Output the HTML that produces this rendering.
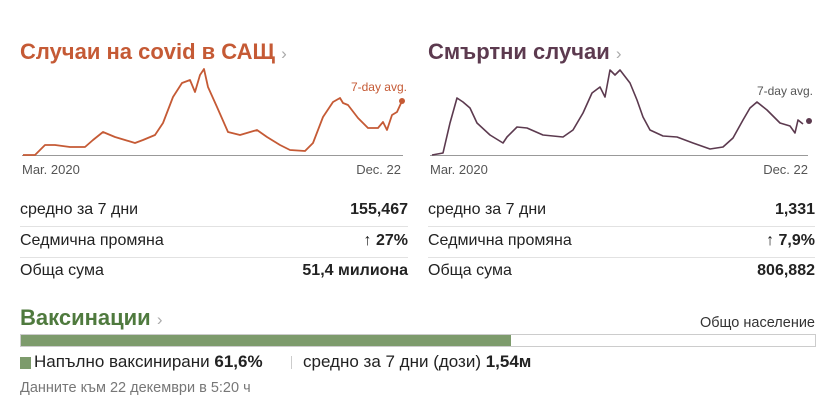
<!DOCTYPE html>
<html><head><meta charset="utf-8"><style>
body{margin:0;width:825px;height:418px;background:#fff;position:relative;font-family:"Liberation Sans",sans-serif;overflow:hidden}
.a{position:absolute;white-space:nowrap}
.t{font-weight:bold;font-size:22px}
.r{font-size:16px;color:#222}
.v{font-weight:bold;text-align:right}
.sep{position:absolute;height:1px;background:#e2e2e2}
.n{font-family:"Liberation Sans Narrow","Liberation Sans",sans-serif}
</style></head><body>
<div class="a t" style="left:20px;top:39px;color:#c55a35">Случаи на covid в САЩ <span style="color:#aaa;font-weight:normal;font-size:17px">›</span></div>
<div class="a t" style="left:428px;top:39px;color:#5c3a4f">Смъртни случаи <span style="color:#aaa;font-weight:normal;font-size:17px">›</span></div>
<svg class="a" style="left:0;top:0" width="825" height="180">
<line x1="22" y1="155.5" x2="403" y2="155.5" stroke="#999" stroke-width="1"/>
<line x1="430" y1="155.5" x2="808" y2="155.5" stroke="#999" stroke-width="1"/>
<polyline fill="none" stroke="#c55a35" stroke-width="1.8" stroke-linejoin="round" points="23,155 35,155 45,145 55,145 70,147 85,147 93,140 103,132 115,137 125,140 135,143 143,140 155,135 163,123 173,97 182,83 190,80 195,92 200,75 204,69 208,87 217,107 228,132 240,135 257,130 267,137 280,145 290,150 305,151 313,143 323,117 333,102 340,98 343,103 348,105 358,118 368,128 378,128 383,122 387,130 392,115 397,112 402,101"/>
<circle cx="402" cy="101" r="3" fill="#c55a35"/>
<polyline fill="none" stroke="#5c3a4f" stroke-width="1.6" stroke-linejoin="round" points="432,155 443,153 450,123 457,98 463,102 470,108 477,123 490,135 503,143 507,137 517,127 527,128 543,135 563,137 573,130 583,113 592,93 600,87 605,97 610,70 615,75 620,70 630,83 637,100 643,117 650,130 663,136 677,137 693,143 710,149 723,147 733,138 743,120 750,108 757,102 767,110 780,123 790,126 795,133 798,120 803,124"/>
<circle cx="809" cy="121" r="3" fill="#5c3a4f"/>
<text x="407" y="91" font-size="12" fill="#c55a35" text-anchor="end" font-family="Liberation Sans">7-day avg.</text>
<text x="813" y="95" font-size="12" fill="#555" text-anchor="end" font-family="Liberation Sans">7-day avg.</text>
<text x="22" y="174" font-size="13" fill="#555" font-family="Liberation Sans">Mar. 2020</text>
<text x="401" y="174" font-size="13" fill="#555" text-anchor="end" font-family="Liberation Sans">Dec. 22</text>
<text x="430" y="174" font-size="13" fill="#555" font-family="Liberation Sans">Mar. 2020</text>
<text x="808" y="174" font-size="13" fill="#555" text-anchor="end" font-family="Liberation Sans">Dec. 22</text>
</svg>
<div class="a r" style="left:20px;top:201px">средно за 7 дни</div><div class="a r v" style="right:417px;top:201px">155,467</div>
<div class="sep" style="left:20px;width:388px;top:226px"></div>
<div class="a r" style="left:20px;top:232px">Седмична промяна</div><div class="a r v" style="right:417px;top:232px">↑ 27%</div>
<div class="sep" style="left:20px;width:388px;top:257px"></div>
<div class="a r" style="left:20px;top:262px">Обща сума</div><div class="a r v" style="right:417px;top:262px">51,4 милиона</div>
<div class="a r" style="left:428px;top:201px">средно за 7 дни</div><div class="a r v" style="right:10px;top:201px">1,331</div>
<div class="sep" style="left:428px;width:387px;top:226px"></div>
<div class="a r" style="left:428px;top:232px">Седмична промяна</div><div class="a r v" style="right:10px;top:232px">↑ 7,9%</div>
<div class="sep" style="left:428px;width:387px;top:257px"></div>
<div class="a r" style="left:428px;top:262px">Обща сума</div><div class="a r v" style="right:10px;top:262px">806,882</div>
<div class="a n" style="left:20px;top:305px;font-size:22px;font-weight:bold;color:#4f7a3e">Ваксинации <span style="color:#aaa;font-weight:normal;font-size:17px">›</span></div>
<div class="a n" style="right:10px;top:315px;font-size:14.5px;color:#333">Общо население</div>
<div class="a" style="left:20px;top:334px;width:794px;height:11px;border:1px solid #ccc;background:#fff"></div>
<div class="a" style="left:21px;top:335px;width:490px;height:11px;background:#7d9b6c"></div>
<div class="a" style="left:20px;top:357px;width:11px;height:12px;background:#7d9b6c"></div>
<div class="a n" style="left:34px;top:352px;font-size:17px;color:#222">Напълно ваксинирани <b>61,6%</b></div>
<div class="a" style="left:291px;top:356px;width:1px;height:13px;background:#ccc"></div>
<div class="a n" style="left:303px;top:352px;font-size:17px;color:#222">средно за 7 дни (дози) <b>1,54м</b></div>
<div class="a n" style="left:20px;top:380px;font-size:14.5px;color:#777">Данните към 22 декември в 5:20 ч</div>
</body></html>
